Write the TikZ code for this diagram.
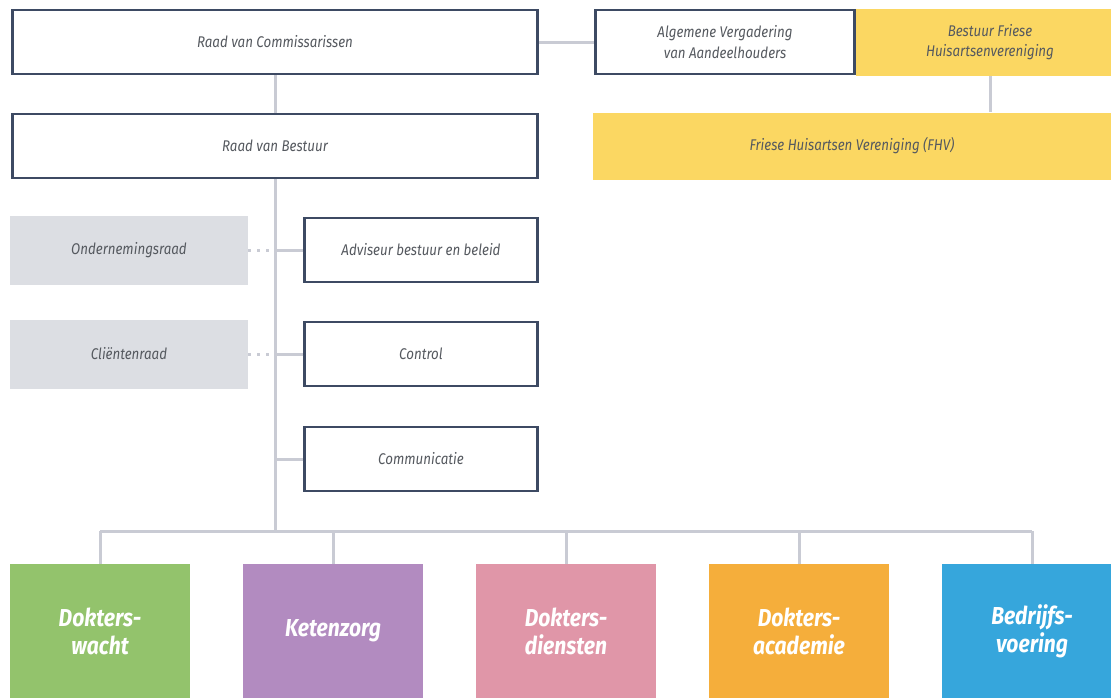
\documentclass[tikz,border=0pt]{standalone}
\usepackage{fontspec}
\setmainfont{Fira Sans}
\newfontfamily\condfont[FakeStretch=0.86]{Fira Sans}
\usetikzlibrary{positioning}

\definecolor{navy}{HTML}{3D4A63}
\definecolor{linegray}{HTML}{C9CBD4}
\definecolor{labelgray}{HTML}{55595F}
\definecolor{fillgray}{HTML}{DCDEE3}
\definecolor{fhvyellow}{HTML}{FBD762}
\definecolor{dwgreen}{HTML}{93C36C}
\definecolor{kzpurple}{HTML}{B28BC0}
\definecolor{ddpink}{HTML}{E096A8}
\definecolor{daorange}{HTML}{F5AE3B}
\definecolor{bvblue}{HTML}{36A6DC}

\begin{document}
\begin{tikzpicture}[x=1pt,y=-1pt,
    orgbox/.style={draw=navy, line width=2.5pt, fill=white, inner sep=0pt,
      minimum height=64pt, text=labelgray, align=center,
      font=\condfont\itshape\fontsize{15.5}{20.5}\selectfont},
    sidebox/.style={fill=fillgray, inner sep=0pt, minimum width=238pt,
      minimum height=69pt, text=labelgray,
      font=\condfont\itshape\fontsize{15.5}{20.5}\selectfont},
    fhvbox/.style={fill=fhvyellow, inner sep=0pt, minimum height=67pt,
      text=labelgray, align=center,
      font=\condfont\itshape\fontsize{15.5}{20.5}\selectfont},
    unitbox/.style={fill=#1, inner sep=0pt, minimum width=180pt,
      minimum height=134pt, text=white, align=center,
      font=\condfont\bfseries\itshape\fontsize{24.5}{28}\selectfont},
    link/.style={draw=linegray, line width=3pt},
    adviceline/.style={draw=linegray, line width=3pt, dash pattern=on 3pt off 6pt}]

    \clip (0,0) rectangle (1111,697);
    \fill[white] (0,0) rectangle (1111,697);

    % bestuur en toezicht
    \node[orgbox, minimum width=525pt] (rvc) at (275,42) {Raad van Commissarissen};
    \node[orgbox, minimum width=525pt] (rvb) at (275,146) {Raad van Bestuur};
    \node[orgbox, minimum width=259pt] (ava) at (725,42) {Algemene Vergadering\\van Aandeelhouders};
    \node[fhvbox, minimum width=268pt] (bfhv) at (990,42) {Bestuur Friese\\Huisartsenvereniging};
    \node[fhvbox, minimum width=518pt] (fhv) at (852,146) {Friese Huisartsen Vereniging (FHV)};

    % staf en medezeggenschap
    \node[sidebox] (or) at (129,250) {Ondernemingsraad};
    \node[sidebox] (cr) at (129,354) {Cliëntenraad};
    \node[orgbox, minimum width=233pt] (adv) at (421,250) {Adviseur bestuur en beleid};
    \node[orgbox, minimum width=233pt] (ctrl) at (421,354) {Control};
    \node[orgbox, minimum width=233pt] (comm) at (421,459) {Communicatie};

    % werkmaatschappijen
    \node[unitbox=dwgreen] (dw) at (100,631) {Dokters-\\wacht};
    \node[unitbox=kzpurple] (kz) at (333,631) {Ketenzorg};
    \node[unitbox=ddpink] (dd) at (566,631) {Dokters-\\diensten};
    \node[unitbox=daorange] (da) at (799,631) {Dokters-\\academie};
    \node[unitbox=bvblue] (bv) at (1032,631) {Bedrijfs-\\voering};

    \coordinate (trunk) at (275,531);

    \path[link] (rvc.east) -- (ava.west);
    \path[link] (rvc.south) -- (rvb.north);
    \path[link] (bfhv.south) -- (fhv.north -| bfhv.south);
    \path[link] (rvb.south) -- (trunk);
    \path[link] (adv.west) -- (adv.west -| trunk);
    \path[link] (ctrl.west) -- (ctrl.west -| trunk);
    \path[link] (comm.west) -- (comm.west -| trunk);
    \path[adviceline] (or.east) -- ([xshift=-1.5pt]or.east -| trunk);
    \path[adviceline] (cr.east) -- ([xshift=-1.5pt]cr.east -| trunk);

    \path[link] (dw.north |- trunk) -- (bv.north |- trunk);
    \foreach \unit in {dw,kz,dd,da,bv}
        \path[link] (\unit.north) -- (\unit.north |- trunk);
\end{tikzpicture}
\end{document}
